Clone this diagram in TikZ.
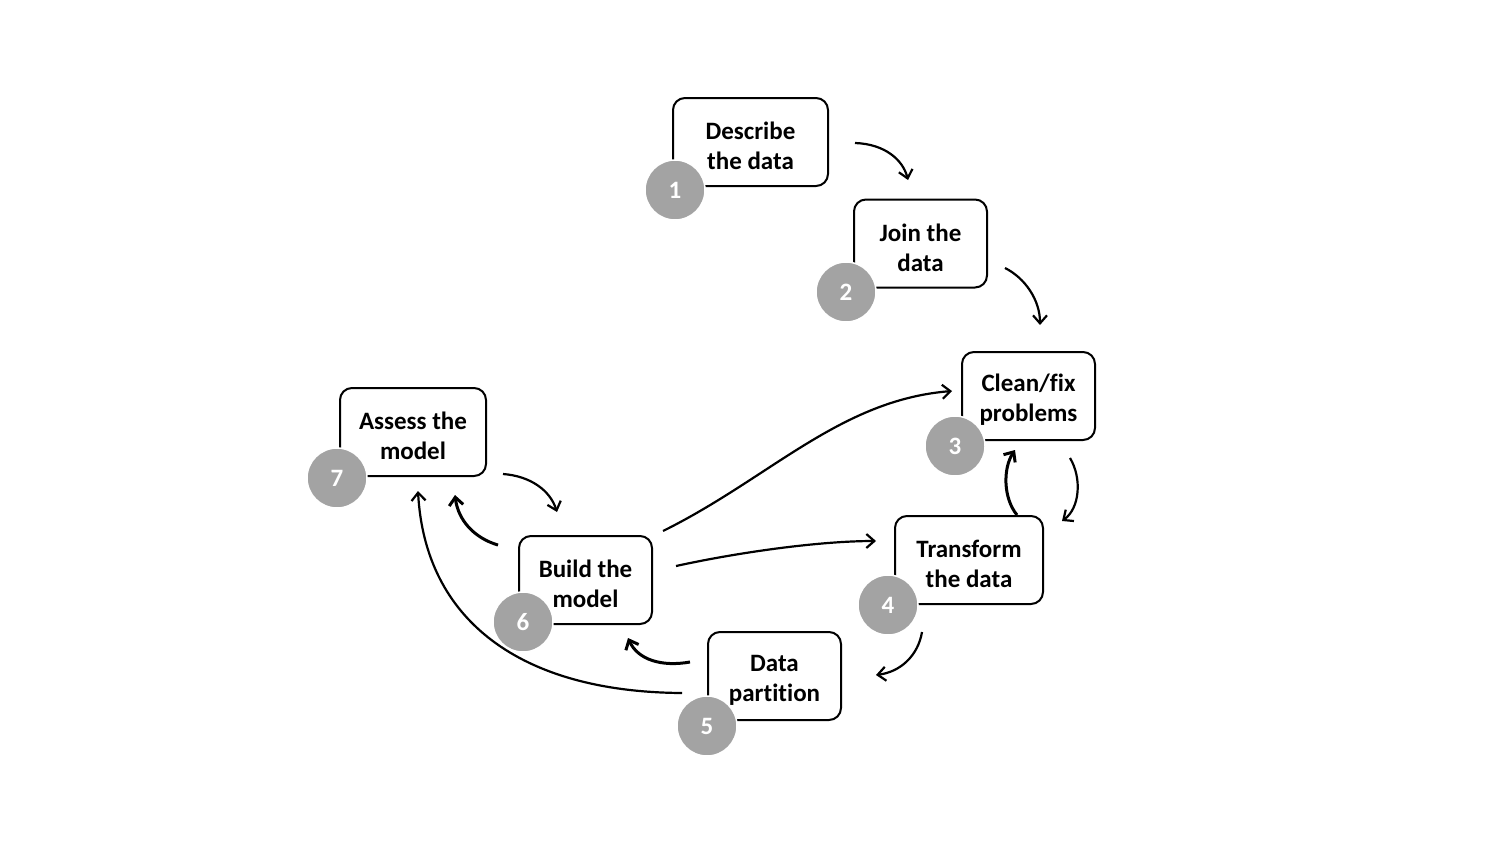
\documentclass[tikz,border=0pt]{standalone}
\usepackage{fontspec}
\setmainfont{Carlito}[Ligatures=NoCommon]
\usetikzlibrary{arrows.meta}
\definecolor{numgray}{HTML}{A3A3A3}
\tikzset{
  stepbox/.style={draw=black, line width=2pt, rounded corners=12pt, minimum width=133pt, minimum height=88pt, inner sep=0pt},
  steptext/.style={align=center, font=\fontsize{25}{30}\selectfont\bfseries, inner sep=0pt},
  numdot/.style={circle, fill=numgray, draw=white, line width=1.5pt, minimum size=60pt, inner sep=0pt, text=white, font=\fontsize{25}{25}\selectfont\bfseries},
  flow/.style={line width=2.2pt, -{Straight Barb[length=8pt,width=14pt,line width=2.2pt]}},
  flowthick/.style={line width=3pt, -{Straight Barb[length=8pt,width=14pt,line width=3pt]}}
}
\begin{document}
\begin{tikzpicture}[x=1pt,y=-1pt]
\useasboundingbox (0,0) rectangle (1512,851);
\fill[white] (0,0) rectangle (1512,851);
% boxes
\node[stepbox, minimum width=155pt] (b1) at (750.5,142) {};
\node[stepbox] (b2) at (920.5,243.5) {};
\node[stepbox] (b3) at (1028.5,396) {};
\node[stepbox, minimum width=148pt] (b4) at (969,560) {};
\node[stepbox] (b5) at (774.5,676) {};
\node[stepbox] (b6) at (585.5,580) {};
\node[stepbox, minimum width=146pt] (b7) at (413,432) {};
% texts
\node[steptext] (t1) at ([yshift=-4pt]b1.center) {Describe\\the data};
\node[steptext] (t2) at ([yshift=-4pt]b2.center) {Join the\\data};
\node[steptext] (t3) at ([yshift=-4pt]b3.center) {Clean/fix\\problems};
\node[steptext] (t4) at ([yshift=-4pt]b4.center) {Transform\\the data};
\node[steptext] (t5) at ([yshift=-4pt]b5.center) {Data\\partition};
\node[steptext] (t6) at ([yshift=-4pt]b6.center) {Build the\\model};
\node[steptext] (t7) at ([yshift=-4pt]b7.center) {Assess the\\model};
% number circles
\node[numdot] (n1) at (675,190) {1};
\node[numdot] (n2) at (846,292) {2};
\node[numdot] (n3) at (955,446) {3};
\node[numdot] (n4) at (888,605) {4};
\node[numdot] (n5) at (707,726) {5};
\node[numdot] (n6) at (523,622) {6};
\node[numdot] (n7) at (337,478) {7};
% connector end points
\coordinate (c12s) at (855,143);  \coordinate (c12e) at (908,180);
\coordinate (c23s) at (1005,268); \coordinate (c23e) at (1040,325);
\coordinate (c34s) at (1070,458); \coordinate (c34e) at (1062,521);
\coordinate (c43s) at (1017,515); \coordinate (c43e) at (1015,450);
\coordinate (c45s) at (922,632);  \coordinate (c45e) at (876,675);
\coordinate (c56s) at (690,662);  \coordinate (c56e) at (628,638);
\coordinate (c67s) at (498,545);  \coordinate (c67e) at (455,495);
\coordinate (c76s) at (503,474);  \coordinate (c76e) at (557,512);
\coordinate (c57s) at (682,693);  \coordinate (c57e) at (418,491);
\coordinate (c63s) at (663,531);  \coordinate (c63e) at (952,391);
\coordinate (c64s) at (676,566);  \coordinate (c64e) at (876,541);
% connectors
\draw[flow] (c12s) .. controls (885,144) and (903,160) .. (c12e);
\draw[flow] (c23s) .. controls (1025,278) and (1040,300) .. (c23e);
\draw[flow] (c34s) .. controls (1082,478) and (1080,508) .. (c34e);
\draw[flowthick] (c43s) .. controls (1003,498) and (1003,468) .. (c43e);
\draw[flow] (c45s) .. controls (918,656) and (900,672) .. (c45e);
\draw[flowthick] (c56s) .. controls (662,667) and (638,660) .. (c56e);
\draw[flowthick] (c67s) .. controls (474,538) and (458,520) .. (c67e);
\draw[flow] (c76s) .. controls (530,476) and (550,490) .. (c76e);
\draw[flow] (c57s) .. controls (520,692) and (425,620) .. (c57e);
\draw[flow] (c63s) .. controls (770,478) and (840,400) .. (c63e);
\draw[flow] (c64s) .. controls (740,552) and (820,541) .. (c64e);
\end{tikzpicture}
\end{document}
